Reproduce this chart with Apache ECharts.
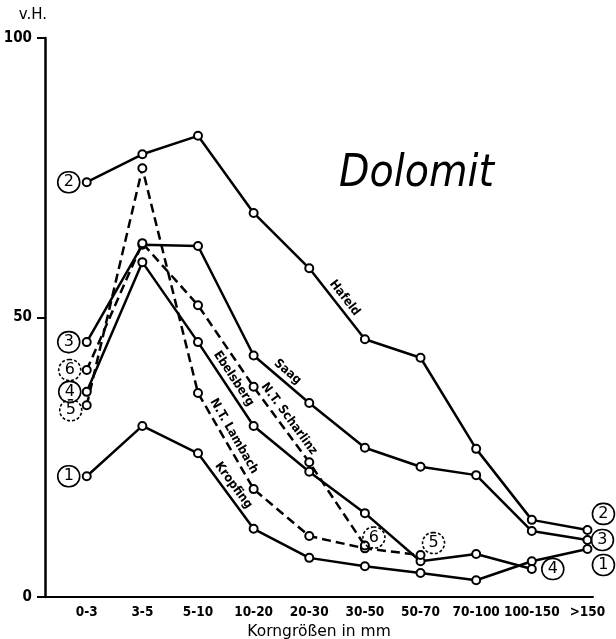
<!DOCTYPE html>
<html><head><meta charset="utf-8">
<script src="https://cdn.jsdelivr.net/npm/echarts@6/dist/echarts.min.js"></script>
<style>html,body{margin:0;padding:0;background:#fff}#c{width:616px;height:639px}</style>
</head><body><div id="c"></div>
<script>
// ---- data ----
const categories = ['0-3','3-5','5-10','10-20','20-30','30-50','50-70','70-100','100-150','>150'];
const kropfing  = [21.6, 30.6, 25.7, 12.2, 7.0, 5.5, 4.3, 3.0, 6.4, 8.6];
const hafeld    = [74.2, 79.2, 82.5, 68.7, 58.8, 46.1, 42.8, 26.5, 13.8, 12.0];
const saag      = [45.6, 63.0, 62.8, 43.2, 34.7, 26.7, 23.3, 21.8, 11.8, 10.2];
const ebelsberg = [36.7, 59.9, 45.6, 30.6, 22.4, 15.0, 6.4, 7.7, 5.0];
const lambach   = [34.3, 76.7, 36.5, 19.3, 10.9, 8.7, 7.5];
const scharlinz = [40.6, 63.3, 52.2, 37.6, 24.1, 9.2];
const yTicks = [0, 50, 100];

const COND = "'DejaVu Sans Condensed','DejaVu Sans',sans-serif";

function circ(num, dashed, offset){
  return {
    show:true, position:'inside', offset:offset, formatter:num,
    color:'#000', fontSize:16, fontFamily:"'DejaVu Sans',sans-serif",
    width:20, height:20, lineHeight:20, align:'center', verticalAlign:'middle',
    borderColor:'#000', borderWidth:1.6, borderType: dashed ? [3,2] : 'solid',
    borderRadius:11, padding:[1,1,0,1]
  };
}

const defs = [
  {name:'Kropfing',       vals:kropfing,  num:'1', dashed:false, seg:2,
   labels:{0:[-18,0], 9:[16,16]}},
  {name:'Hafeld',         vals:hafeld,    num:'2', dashed:false, seg:4,
   labels:{0:[-18,0], 9:[16,-16]}},
  {name:'Saag',           vals:saag,      num:'3', dashed:false, seg:3,
   labels:{0:[-18,0], 9:[15,0]}},
  {name:'Ebelsberg',      vals:ebelsberg, num:'4', dashed:false, seg:2,
   labels:{0:[-17,0], 8:[21,0]}},
  {name:'N.T. Lambach',   vals:lambach,   num:'5', dashed:true,  seg:2,
   labels:{0:[-16,5], 6:[13,-12]}},
  {name:'N.T. Scharlinz', vals:scharlinz, num:'6', dashed:true,  seg:3,
   labels:{0:[-17,0], 5:[9,-8]}}
];

const series = defs.map(d => ({
  name: d.name,
  type: 'line',
  symbol: 'emptyCircle',
  symbolSize: 8,
  z: 3,
  lineStyle: {color:'#000', width:2.5, type: d.dashed ? [9,5] : 'solid'},
  itemStyle: {color:'#000', borderColor:'#000', borderWidth:2},
  label: {show:false},
  emphasis: {disabled:true},
  animation: false,
  data: d.vals.map((v,i) => d.labels[i] ? {value:[i,v], label:circ(d.num, d.dashed, d.labels[i])} : [i,v]),
  markLine: {
    silent: true, symbol: 'none', animation: false,
    lineStyle: {color:'rgba(0,0,0,0)', width:1, type:'solid'},
    label: {show:true, position:'insideMiddleTop', formatter:d.name, color:'#000',
            fontSize:12.5, fontWeight:'bold', fontFamily:COND, distance:3},
    data: [[{coord:[d.seg, d.vals[d.seg]]}, {coord:[d.seg+1, d.vals[d.seg+1]]}]]
  }
}));

const chart = echarts.init(document.getElementById('c'), null, {renderer:'canvas'});
chart.setOption({
  backgroundColor: '#fff',
  animation: false,
  title: {
    text: 'Dolomit', left: 334, top: 148,
    textStyle: {fontSize: 44, fontStyle:'italic', fontWeight:'normal', color:'#000', fontFamily: COND}
  },
  grid: {left:45, right:23, top:38, bottom:42, containLabel:false, outerBoundsMode:'none'},
  xAxis: {
    type: 'value', min: -0.75, max: 9.1,
    splitLine: {show:false},
    axisTick: {show:false},
    axisLine: {show:true, onZero:false, lineStyle:{color:'#000', width:2}},
    axisLabel: {
      customValues: categories.map((c,i) => i),
      formatter: v => categories[v] ?? '',
      color:'#000', fontSize:13.5, fontWeight:'bold', fontFamily:COND, margin:8
    },
    name: 'Korngrößen in mm', nameLocation: 'middle', nameGap: 22,
    nameTextStyle: {color:'#000', fontSize:15.5, fontFamily:"'DejaVu Sans',sans-serif"}
  },
  yAxis: {
    type: 'value', min: 0, max: 100, interval: 50,
    splitLine: {show:false},
    axisLine: {show:true, onZero:false, lineStyle:{color:'#000', width:2.5}},
    axisTick: {show:true, length:8, lineStyle:{color:'#000', width:2}},
    axisLabel: {
      formatter: v => yTicks.includes(v) ? String(v) : '',
      color:'#000', fontSize:15, fontWeight:'bold', fontFamily:COND, margin:13
    },
    name: 'v.H.', nameLocation: 'end', nameGap: 15,
    nameTextStyle: {color:'#000', fontSize:15, fontFamily:"'DejaVu Sans',sans-serif", align:'right', padding:[0,-2,0,0]}
  },
  series: series
});
</script>
</body></html>
